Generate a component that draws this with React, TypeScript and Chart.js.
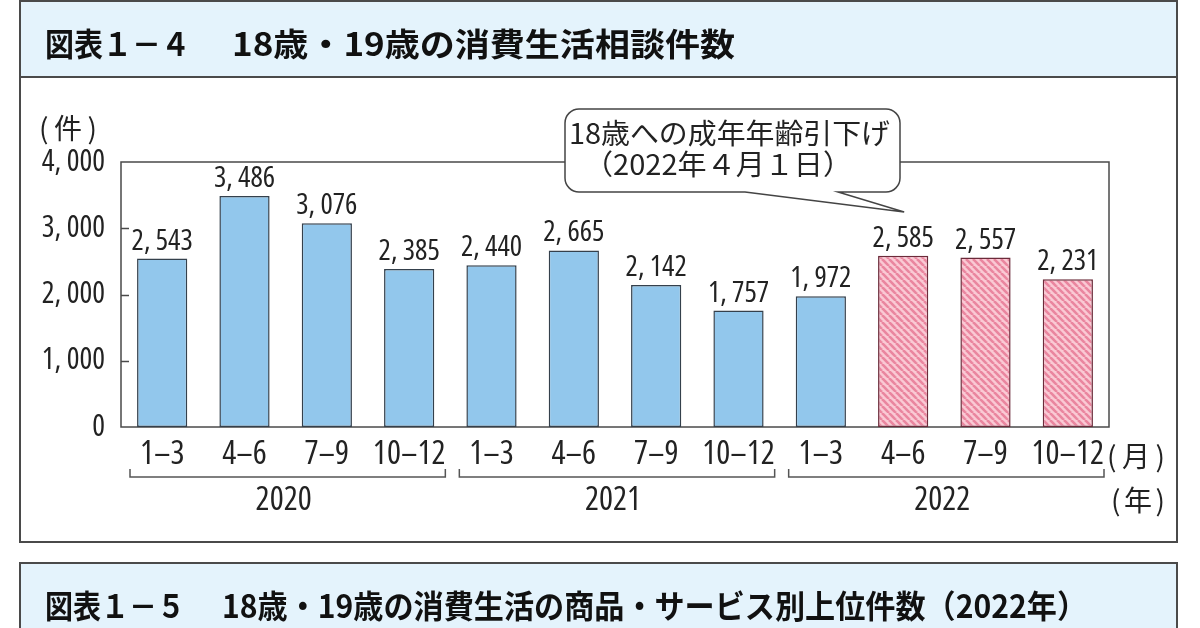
import React, { useEffect, useRef } from "react";
import { Chart, registerables } from "chart.js";
Chart.register(...registerables);

// ---- data ----
const categories = ["1–3", "4–6", "7–9", "10–12", "1–3", "4–6", "7–9", "10–12", "1–3", "4–6", "7–9", "10–12"];
const values = [2543, 3486, 3076, 2385, 2440, 2665, 2142, 1757, 1972, 2585, 2557, 2231];
const afterLowering = [false, false, false, false, false, false, false, false, false, true, true, true];
const years = ["2020", "2021", "2022"];
const yearStart = [0, 4, 8];
const yearEnd = [3, 7, 11];
const yMin = 0;
const yMax = 4000;
const yStep = 1000;
const titleNo = "図表１－４";
const titleText = "18歳・19歳の消費生活相談件数";
const nextTitleNo = "図表１－５";
const nextTitleText = "18歳・19歳の消費生活の商品・サービス別上位件数（2022年）";
const calloutLines = ["18歳への成年年齢引下げ", "（2022年４月１日）"];
const yUnit = "(件)";
const monthUnit = "(月)";
const yearUnit = "(年)";

const NUM = "'Open Sans', 'Roboto Condensed', sans-serif";
const COND = "condensed";
const JP = '"Noto Sans CJK JP", sans-serif';
const TEXT = "#222";
const LINE = "#4a4a4a";

function fmt(v: number): string {
  if (v < 1000) return String(v);
  return `${Math.floor(v / 1000)}, ${String(v % 1000).padStart(3, "0")}`;
}

function fitText(
  ctx: CanvasRenderingContext2D,
  text: string,
  x: number,
  y: number,
  width: number,
  font: string,
  mode: "scale" | "space" = "scale"
) {
  ctx.save();
  ctx.font = font;
  ctx.textAlign = "left";
  ctx.textBaseline = "middle";
  const m = ctx.measureText(text).width;
  const n = Array.from(text).length;
  if (mode === "space" && m < width && n > 1) {
    (ctx as any).letterSpacing = `${(width - m) / (n - 1)}px`;
    ctx.fillText(text, x, y);
  } else {
    ctx.translate(x, y);
    ctx.scale(width / m, 1);
    ctx.fillText(text, 0, 0);
  }
  ctx.restore();
}

function makePattern(): CanvasPattern | string {
  const c = document.createElement("canvas");
  const s = 7;
  c.width = s;
  c.height = s;
  const g = c.getContext("2d");
  if (!g) return "#f4a9bb";
  g.fillStyle = "#fac9d4";
  g.fillRect(0, 0, s, s);
  g.strokeStyle = "#ea869f";
  g.lineWidth = 2.6;
  for (let k = -1; k <= 1; k++) {
    g.beginPath();
    g.moveTo(k * s, 0);
    g.lineTo(k * s + s, s);
    g.stroke();
  }
  const p = g.createPattern(c, "repeat");
  return p || "#f4a9bb";
}

const decorPlugin = {
  id: "decor",
  beforeDraw(chart: any) {
    const ctx: CanvasRenderingContext2D = chart.ctx;
    ctx.save();
    ctx.fillStyle = "#fff";
    ctx.fillRect(0, 0, chart.width, chart.height);
    // title box
    ctx.fillStyle = "#e4f3fc";
    ctx.fillRect(20, 1, 1157, 76);
    ctx.strokeStyle = LINE;
    ctx.lineWidth = 2;
    ctx.strokeRect(20, 1, 1157, 76);
    // chart box
    ctx.strokeRect(20, 77, 1157, 465);
    // next title box
    ctx.fillRect(20, 563, 1157, 80);
    ctx.strokeRect(20, 563, 1157, 80);
    ctx.fillStyle = "#111";
    fitText(ctx, titleNo, 45, 44, 145, `bold 32px ${JP}`);
    fitText(ctx, titleText, 232, 44, 503, `bold 32px ${JP}`);
    fitText(ctx, nextTitleNo, 45, 606, 140, `bold 32px ${JP}`);
    fitText(ctx, nextTitleText, 222, 606, 865, `bold 32px ${JP}`);
    ctx.restore();
  },
  beforeDatasetsDraw(chart: any) {
    const ctx: CanvasRenderingContext2D = chart.ctx;
    const a = chart.chartArea;
    const y = chart.scales.y;
    ctx.save();
    ctx.strokeStyle = LINE;
    ctx.lineWidth = 1.5;
    ctx.strokeRect(a.left, a.top, a.right - a.left, a.bottom - a.top);
    for (let v = yMin + yStep; v < yMax; v += yStep) {
      const py = Math.round(y.getPixelForValue(v)) + 0.5;
      ctx.beginPath();
      ctx.moveTo(a.left, py);
      ctx.lineTo(a.left + 8, py);
      ctx.stroke();
    }
    ctx.restore();
  },
  afterDatasetsDraw(chart: any) {
    const ctx: CanvasRenderingContext2D = chart.ctx;
    const a = chart.chartArea;
    const xs = chart.scales.x;
    const meta = chart.getDatasetMeta(0);
    ctx.save();
    // data labels
    ctx.fillStyle = TEXT;
    ctx.font = `${COND} 29px ${NUM}`;
    ctx.textAlign = "center";
    ctx.textBaseline = "alphabetic";
    meta.data.forEach((bar: any, i: number) => {
      ctx.fillText(fmt(values[i]), bar.x, bar.y - 9);
    });
    // year braces
    const step = xs.getPixelForValue(1) - xs.getPixelForValue(0);
    ctx.strokeStyle = "#555";
    ctx.lineWidth = 1.5;
    years.forEach((yr, k) => {
      const l = xs.getPixelForValue(yearStart[k]) - step / 2 + 9;
      const r = xs.getPixelForValue(yearEnd[k]) + step / 2 - 5;
      ctx.beginPath();
      ctx.moveTo(l, 469);
      ctx.lineTo(l, 477);
      ctx.lineTo(r, 477);
      ctx.lineTo(r, 469);
      ctx.stroke();
      ctx.fillStyle = TEXT;
      ctx.font = `${COND} 33px ${NUM}`;
      ctx.textAlign = "center";
      ctx.textBaseline = "middle";
      ctx.fillText(yr, (l + r) / 2 - 4, 501);
    });
    // units
    ctx.fillStyle = TEXT;
    fitText(ctx, yUnit, 39, 128, 58, `28px ${JP}`, "space");
    fitText(ctx, monthUnit, a.right - 2, 456, 58, `28px ${JP}`, "space");
    fitText(ctx, yearUnit, a.right + 2, 500, 54, `28px ${JP}`, "space");
    // callout
    const rx = 565, ry = 109, rw = 335, rh = 83, r = 14;
    const tipX = xs.getPixelForValue(9) + 1;
    const tipY = 212;
    ctx.beginPath();
    ctx.moveTo(rx + r, ry);
    ctx.lineTo(rx + rw - r, ry);
    ctx.arcTo(rx + rw, ry, rx + rw, ry + r, r);
    ctx.lineTo(rx + rw, ry + rh - r);
    ctx.arcTo(rx + rw, ry + rh, rx + rw - r, ry + rh, r);
    ctx.lineTo(838, ry + rh);
    ctx.lineTo(tipX, tipY);
    ctx.lineTo(745, ry + rh);
    ctx.lineTo(rx + r, ry + rh);
    ctx.arcTo(rx, ry + rh, rx, ry + rh - r, r);
    ctx.lineTo(rx, ry + r);
    ctx.arcTo(rx, ry, rx + r, ry, r);
    ctx.closePath();
    ctx.fillStyle = "#fff";
    ctx.fill();
    ctx.strokeStyle = "#444";
    ctx.lineWidth = 1.5;
    ctx.stroke();
    ctx.fillStyle = TEXT;
    fitText(ctx, calloutLines[0], 569, 133, 321, `28px ${JP}`);
    fitText(ctx, calloutLines[1], 584, 164, 268, `28px ${JP}`);
    ctx.restore();
  },
};

export default function App() {
  const ref = useRef<HTMLCanvasElement | null>(null);
  useEffect(() => {
    if (!ref.current) return;
    const pattern = makePattern();
    const chart = new Chart(ref.current, {
      type: "bar",
      data: {
        labels: categories,
        datasets: [
          {
            data: values,
            backgroundColor: afterLowering.map((f) => (f ? pattern : "#92c7ec")) as any,
            borderColor: afterLowering.map((f) => (f ? "#6b2b3a" : "#34404c")),
            borderWidth: 1.5,
            borderSkipped: false,
            barPercentage: 0.61,
            categoryPercentage: 1,
          },
        ],
      },
      options: {
        responsive: false,
        animation: false,
        devicePixelRatio: 1,
        layout: { padding: { left: 0, top: 162, right: 91, bottom: 0 } },
        plugins: { legend: { display: false }, tooltip: { enabled: false }, title: { display: false } },
        scales: {
          x: {
            grid: { display: false, drawTicks: false },
            border: { display: false },
            ticks: {
              color: TEXT,
              font: { family: NUM, size: 33, weight: COND as any },
              padding: 8,
              maxRotation: 0,
              autoSkip: false,
            },
            afterFit: (s: any) => {
              s.height = 201;
            },
          },
          y: {
            min: yMin,
            max: yMax,
            grid: { display: false, drawTicks: false },
            border: { display: false },
            ticks: {
              stepSize: yStep,
              color: TEXT,
              font: { family: NUM, size: 30, weight: COND as any },
              padding: 16,
              callback: (v: any) => fmt(Number(v)),
            },
            afterFit: (s: any) => {
              s.width = 121;
            },
          },
        },
      },
      plugins: [decorPlugin],
    });
    return () => chart.destroy();
  }, []);
  return (
    <div style={{ position: "fixed", left: 0, top: 0, width: 1200, height: 628, background: "#fff" }}>
      <canvas ref={ref} width={1200} height={628} style={{ width: 1200, height: 628, display: "block" }} />
    </div>
  );
}
